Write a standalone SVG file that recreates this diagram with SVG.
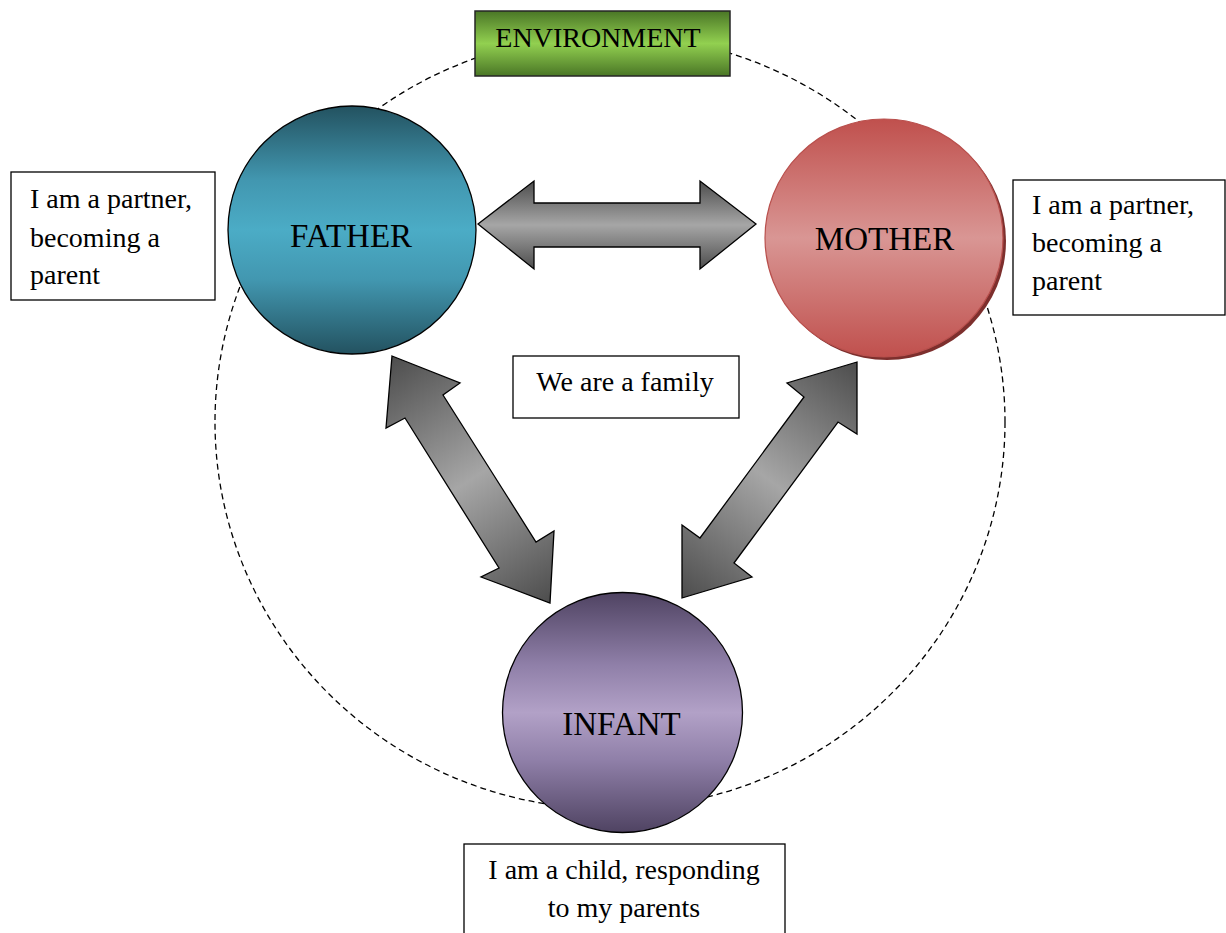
<svg xmlns="http://www.w3.org/2000/svg" width="1226" height="933" viewBox="0 0 1226 933">
  <style>
    text { font-family: "Liberation Serif", "Times New Roman", serif; fill: #000; }
    .lbl { font-size: 28px; }
    .big { font-size: 33px; text-anchor: middle; }
    .box { fill: #fff; stroke: #000; stroke-width: 1.3; }
    .arrow { stroke: #000; stroke-width: 1.3; stroke-linejoin: miter; }
    .boundary { fill: none; stroke: #000; stroke-width: 1.3; stroke-dasharray: 6 4; }
  </style>
  <defs>
    <linearGradient id="gEnv" x1="0" y1="0" x2="0" y2="1">
      <stop offset="0" stop-color="#4a7626"/>
      <stop offset="0.5" stop-color="#92d050"/>
      <stop offset="1" stop-color="#4a7626"/>
    </linearGradient>
    <linearGradient id="gFather" x1="0" y1="0" x2="0" y2="1">
      <stop offset="0" stop-color="#235260"/>
      <stop offset="0.3" stop-color="#4297b0"/>
      <stop offset="0.5" stop-color="#4bacc6"/>
      <stop offset="0.7" stop-color="#4297b0"/>
      <stop offset="1" stop-color="#235260"/>
    </linearGradient>
    <linearGradient id="gMother" x1="0" y1="0" x2="0" y2="1">
      <stop offset="0" stop-color="#c0504d"/>
      <stop offset="0.5" stop-color="#d99694"/>
      <stop offset="1" stop-color="#c0504d"/>
    </linearGradient>
    <linearGradient id="gInfant" x1="0" y1="0" x2="0" y2="1">
      <stop offset="0" stop-color="#4f4362"/>
      <stop offset="0.3" stop-color="#8f7fa8"/>
      <stop offset="0.5" stop-color="#b2a1c7"/>
      <stop offset="0.7" stop-color="#8f7fa8"/>
      <stop offset="1" stop-color="#4f4362"/>
    </linearGradient>
    <linearGradient id="gArrowH" x1="0" y1="0" x2="0" y2="1">
      <stop offset="0" stop-color="#4d4d4d"/>
      <stop offset="0.5" stop-color="#a6a6a6"/>
      <stop offset="1" stop-color="#4d4d4d"/>
    </linearGradient>
    <linearGradient id="gArrowL" gradientUnits="userSpaceOnUse" x1="392" y1="356" x2="550" y2="603">
      <stop offset="0" stop-color="#4d4d4d"/>
      <stop offset="0.5" stop-color="#a6a6a6"/>
      <stop offset="1" stop-color="#4d4d4d"/>
    </linearGradient>
    <linearGradient id="gArrowR" gradientUnits="userSpaceOnUse" x1="857" y1="362" x2="682" y2="598">
      <stop offset="0" stop-color="#4d4d4d"/>
      <stop offset="0.5" stop-color="#a6a6a6"/>
      <stop offset="1" stop-color="#4d4d4d"/>
    </linearGradient>
  </defs>

  <g id="environment-boundary">
    <ellipse class="boundary" cx="610" cy="422" rx="395" ry="387"/>
  </g>

  <g id="connectors">
    <polygon class="arrow" fill="url(#gArrowH)" points="478,224 534,181 534,203 700,203 700,181 756,224 700,269 700,247 534,247 534,269"/>
    <polygon class="arrow" fill="url(#gArrowL)" points="392,356 460,383 443,395 536,542 554,531 550,603 481,577 499,568 405,418 386,428"/>
    <polygon class="arrow" fill="url(#gArrowR)" points="857,362 787,383 804,397 700,538 682,525 682,598 752,577 734,563 838,422 857,434"/>
  </g>

  <g id="environment">
    <rect x="475" y="11" width="255" height="65" fill="url(#gEnv)" stroke="#262626" stroke-width="1.5"/>
    <text class="lbl" x="598" y="47" text-anchor="middle">ENVIRONMENT</text>
  </g>

  <g id="father">
    <circle cx="352" cy="230" r="124" fill="url(#gFather)" stroke="#000" stroke-width="1.3"/>
    <text class="big" x="351" y="247">FATHER</text>
  </g>

  <g id="mother">
    <circle cx="887" cy="241" r="119" fill="#7d2f2d"/>
    <circle cx="884" cy="238" r="119" fill="url(#gMother)" stroke="#b9504d" stroke-width="1.2"/>
    <text class="big" x="884.5" y="250">MOTHER</text>
  </g>

  <g id="infant">
    <circle cx="622.5" cy="712.5" r="120" fill="url(#gInfant)" stroke="#000" stroke-width="1.3"/>
    <text class="big" x="621.5" y="735">INFANT</text>
  </g>

  <g id="father-note">
    <rect class="box" x="11" y="172" width="204" height="128"/>
    <text class="lbl" x="30" y="208">I am a partner,</text>
    <text class="lbl" x="30" y="247">becoming a</text>
    <text class="lbl" x="30" y="284">parent</text>
  </g>

  <g id="mother-note">
    <rect class="box" x="1013" y="180" width="212" height="135"/>
    <text class="lbl" x="1032" y="214">I am a partner,</text>
    <text class="lbl" x="1032" y="252">becoming a</text>
    <text class="lbl" x="1032" y="290">parent</text>
  </g>

  <g id="family-note">
    <rect class="box" x="513" y="356" width="226" height="62"/>
    <text class="lbl" x="625" y="391" text-anchor="middle">We are a family</text>
  </g>

  <g id="infant-note">
    <rect class="box" x="464" y="844" width="321" height="100"/>
    <text class="lbl" x="624" y="879" text-anchor="middle">I am a child, responding</text>
    <text class="lbl" x="624" y="917" text-anchor="middle">to my parents</text>
  </g>
</svg>
